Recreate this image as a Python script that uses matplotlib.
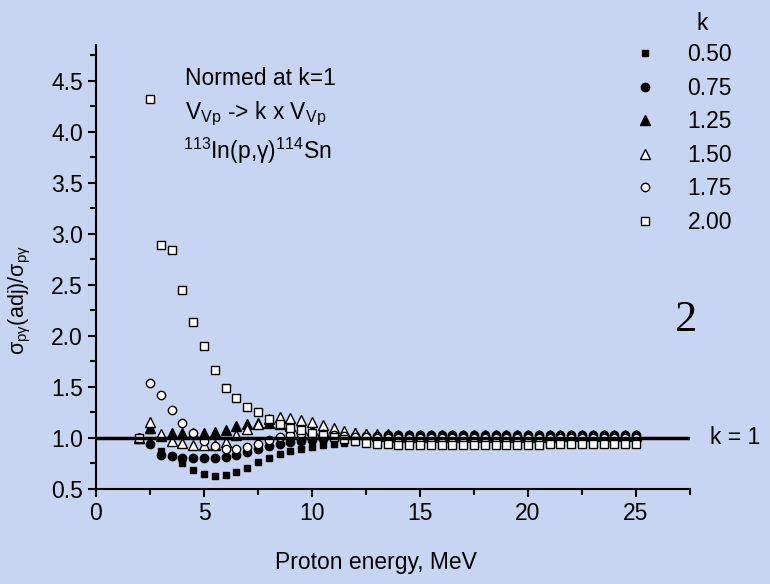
import matplotlib
matplotlib.use("Agg")
import matplotlib.pyplot as plt
from matplotlib.ticker import MultipleLocator, FormatStrFormatter

plt.rcParams['font.family'] = ['Liberation Sans', 'DejaVu Sans']
plt.rcParams['mathtext.fontset'] = 'custom'
plt.rcParams['mathtext.rm'] = 'Liberation Sans'
plt.rcParams['mathtext.it'] = 'Liberation Sans:italic'

FS = 16.5

# proton energies, MeV
energy = [2.0, 2.5, 3.0, 3.5, 4.0, 4.5, 5.0, 5.5, 6.0, 6.5, 7.0, 7.5, 8.0, 8.5,
          9.0, 9.5, 10.0, 10.5, 11.0, 11.5, 12.0, 12.5, 13.0, 13.5, 14.0, 14.5,
          15.0, 15.5, 16.0, 16.5, 17.0, 17.5, 18.0, 18.5, 19.0, 19.5, 20.0,
          20.5, 21.0, 21.5, 22.0, 22.5, 23.0, 23.5, 24.0, 24.5, 25.0]

# ratios sigma(adj)/sigma for each scaling factor k
k050 = [1.00, 1.08, 0.87, 0.82, 0.75, 0.69, 0.65, 0.63, 0.64, 0.67, 0.71, 0.76,
        0.80, 0.84, 0.87, 0.89, 0.91, 0.93, 0.94, 0.95, 0.96, 0.965, 0.97, 0.975,
        0.98, 0.98, 0.985, 0.985, 0.985, 0.99, 0.99, 0.99, 0.99, 0.99, 0.99,
        0.99, 0.99, 0.99, 0.99, 0.99, 0.99, 0.99, 0.99, 0.99, 0.99, 0.99, 0.99]
k075 = [1.00, 0.94, 0.83, 0.82, 0.80, 0.80, 0.80, 0.80, 0.81, 0.83, 0.86, 0.89,
        0.92, 0.94, 0.96, 0.97, 0.98, 0.99, 1.00, 1.01, 1.015, 1.02, 1.02, 1.025,
        1.025, 1.03, 1.03, 1.03, 1.03, 1.03, 1.03, 1.03, 1.03, 1.03, 1.03, 1.03,
        1.03, 1.03, 1.03, 1.03, 1.03, 1.03, 1.03, 1.03, 1.03, 1.03, 1.03]
k125 = [1.00, 1.10, 1.02, 1.05, 1.05, 1.05, 1.05, 1.06, 1.08, 1.12, 1.14, 1.15,
        1.15, 1.14, 1.12, 1.10, 1.08, 1.07, 1.06, 1.05, 1.045, 1.04, 1.035, 1.035,
        1.03, 1.03, 1.03, 1.03, 1.03, 1.03, 1.03, 1.03, 1.03, 1.03, 1.03, 1.03,
        1.03, 1.03, 1.03, 1.03, 1.03, 1.03, 1.03, 1.03, 1.03, 1.03, 1.03]
k150 = [1.00, 1.16, 1.04, 0.97, 0.95, 0.93, 0.93, 0.93, 0.96, 1.03, 1.09, 1.14,
        1.19, 1.21, 1.20, 1.18, 1.16, 1.13, 1.10, 1.07, 1.045, 1.035, 1.02, 1.015,
        1.01, 1.01, 1.01, 1.01, 1.01, 1.01, 1.01, 1.01, 1.01, 1.01, 1.01, 1.01,
        1.01, 1.01, 1.01, 1.015, 1.015, 1.015, 1.015, 1.015, 1.015, 1.015, 1.015]
k175 = [1.00, 1.54, 1.42, 1.27, 1.15, 1.05, 0.97, 0.92, 0.89, 0.89, 0.91, 0.94,
        0.98, 1.01, 1.03, 1.04, 1.04, 1.035, 1.03, 1.02, 1.01, 1.005, 1.00, 1.00,
        1.00, 1.00, 1.00, 1.00, 1.00, 1.00, 1.00, 1.00, 1.00, 1.00, 1.00, 1.00,
        1.00, 1.00, 1.00, 1.00, 1.00, 1.00, 1.00, 1.00, 1.00, 1.00, 1.00]
k200 = [1.00, 4.32, 2.89, 2.84, 2.45, 2.14, 1.90, 1.67, 1.49, 1.39, 1.30, 1.25,
        1.19, 1.14, 1.10, 1.075, 1.05, 1.03, 1.01, 0.99, 0.97, 0.955, 0.945, 0.94,
        0.935, 0.935, 0.935, 0.935, 0.935, 0.935, 0.935, 0.935, 0.935, 0.935, 0.935,
        0.935, 0.935, 0.935, 0.94, 0.94, 0.94, 0.94, 0.94, 0.94, 0.94, 0.94, 0.94]

labels = ['0.50', '0.75', '1.25', '1.50', '1.75', '2.00']
series = [k050, k075, k125, k150, k175, k200]
# marker, face colour, size
styles = [('s', 'black', 5.0), ('o', 'black', 6.0), ('^', 'black', 7.5),
          ('^', 'white', 7.5), ('o', 'white', 6.0), ('s', 'white', 5.5)]

fig = plt.figure(figsize=(7.7, 5.84), dpi=100)
fig.patch.set_facecolor('#c7d5f2')
ax = fig.add_axes([96/770, 1-489/584, (690-96)/770, (489-45)/584])
ax.set_facecolor('none')

for vals, lab, (m, fc, ms) in zip(series, labels, styles):
    ax.plot(energy, vals, linestyle='none', marker=m, mfc=fc, mec='black',
            ms=ms, mew=1.0, label=lab, clip_on=False)

# reference line k = 1
ax.axhline(1.0, color='black', lw=2.5, zorder=5)

ax.set_xlim(0, 27.5)
ax.set_ylim(0.5, 4.85)
ax.xaxis.set_major_locator(MultipleLocator(5))
ax.xaxis.set_minor_locator(MultipleLocator(2.5))
ax.yaxis.set_major_locator(MultipleLocator(0.5))
ax.yaxis.set_minor_locator(MultipleLocator(0.25))
ax.yaxis.set_major_formatter(FormatStrFormatter('%.1f'))
for s in ['top', 'right']:
    ax.spines[s].set_visible(False)
for s in ['left', 'bottom']:
    ax.spines[s].set_linewidth(1.5)
ax.tick_params(which='major', direction='out', length=6, width=1.5, labelsize=FS)
ax.tick_params(which='minor', direction='out', length=4, width=1.5)

ax.set_xlabel('Proton energy, MeV', fontsize=FS)
ax.xaxis.set_label_coords((376-96)/594, (489-551)/444)
ax.set_ylabel(r'σ$_{\mathregular{pγ}}$(adj)/σ$_{\mathregular{pγ}}$', fontsize=15.5)
ax.yaxis.set_label_coords((33-96)/594, (489-300)/444)

leg = ax.legend(frameon=False, loc='upper left',
                bbox_to_anchor=(617/770, 1-27/584), bbox_transform=fig.transFigure,
                fontsize=FS, handlelength=1.0,
                handletextpad=1.38, labelspacing=0.46, borderpad=0.2)
fig.text(702/770, 1-23/584, 'k', fontsize=FS, ha='center', va='center')

fig.text(185/770, 1-85/584, 'Normed at k=1', fontsize=FS, va='baseline')
fig.text(185/770, 1-119/584, r'V$_{\mathregular{Vp}}$ -> k x V$_{\mathregular{Vp}}$',
         fontsize=FS, va='baseline')
fig.text(183/770, 1-159/584, r'$^{\mathregular{113}}$In(p,γ)$^{\mathregular{114}}$Sn',
         fontsize=FS, va='baseline')

fig.text(710/770, 1-438/584, 'k = 1', fontsize=FS, va='center', ha='left')
fig.text(686/770, 1-320/584, '2', fontsize=32, family='Liberation Serif',
         va='center', ha='center')

fig.savefig('out.png', dpi=100, facecolor=fig.get_facecolor())
